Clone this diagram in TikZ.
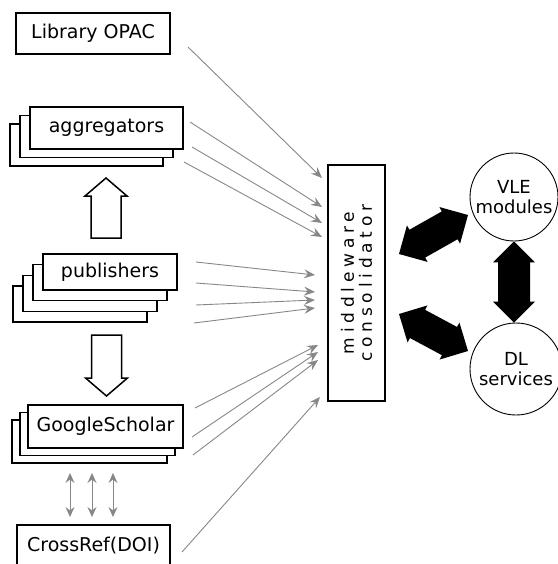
\documentclass[tikz,border=0pt]{standalone}
\usepackage{fontspec}
\setmainfont{DejaVu Sans}
\newfontfamily\spaced[LetterSpace=28]{DejaVu Sans}
\usetikzlibrary{positioning, arrows.meta, calc}
\definecolor{wire}{RGB}{135,135,135}

\tikzset{
  box/.style={draw, line width=1.5pt, fill=white, inner sep=0pt},
  hub/.style={draw, circle, line width=0.9pt, align=center, inner sep=0pt, font=\fontsize{18}{20}\selectfont},
  feed/.style={draw=wire, line width=0.9pt, -{Stealth[length=11pt, width=9pt, inset=4pt]}},
  link/.style={draw=wire, line width=0.9pt, {Stealth[length=10pt, width=9pt, inset=3.5pt]}-{Stealth[length=10pt, width=9pt, inset=3.5pt]}},
  fatarrow/.style={fill=black, to path={
    -- ($(\tikztostart)!21pt!(\tikztotarget)!21pt!90:(\tikztotarget)$)
    -- ($(\tikztostart)!21pt!(\tikztotarget)!16pt!90:(\tikztotarget)$)
    -- ($(\tikztotarget)!21pt!(\tikztostart)!16pt!-90:(\tikztostart)$)
    -- ($(\tikztotarget)!21pt!(\tikztostart)!21pt!-90:(\tikztostart)$)
    -- (\tikztotarget)
    -- ($(\tikztotarget)!21pt!(\tikztostart)!21pt!90:(\tikztostart)$)
    -- ($(\tikztotarget)!21pt!(\tikztostart)!16pt!90:(\tikztostart)$)
    -- ($(\tikztostart)!21pt!(\tikztotarget)!16pt!-90:(\tikztotarget)$)
    -- ($(\tikztostart)!21pt!(\tikztotarget)!21pt!-90:(\tikztotarget)$)
    -- cycle}},
  blockarrow/.style={draw, fill=white, line width=1.5pt, to path={
    -- ($(\tikztostart)!15pt!90:(\tikztotarget)$)
    -- ($(\tikztotarget)!18pt!(\tikztostart)!15pt!-90:(\tikztostart)$)
    -- ($(\tikztotarget)!18pt!(\tikztostart)!21pt!-90:(\tikztostart)$)
    -- (\tikztotarget)
    -- ($(\tikztotarget)!18pt!(\tikztostart)!21pt!90:(\tikztostart)$)
    -- ($(\tikztotarget)!18pt!(\tikztostart)!15pt!90:(\tikztostart)$)
    -- ($(\tikztostart)!15pt!-90:(\tikztotarget)$)
    -- cycle}}
}

\begin{document}
\begin{tikzpicture}[x=1pt, y=-1pt, font=\fontsize{19}{21}\selectfont]
  \useasboundingbox (0,0) rectangle (557,564);

  % Sources
  \node[box, minimum width=154pt, minimum height=41pt] (opac) at (93,33.5) {Library OPAC};

  \foreach \s in {2,1}
  \node[box, minimum width=153pt, minimum height=42pt] (agg\s) at (106.5-10*\s, 128+8.5*\s) {};
  \node[box, minimum width=153pt, minimum height=42pt] (agg0) at (106.5,128) {aggregators};

  \foreach \s in {3,2,1}
  \node[box, minimum width=134pt, minimum height=36pt] (pub\s) at (110-10*\s, 272+10.7*\s) {};
  \node[box, minimum width=134pt, minimum height=36pt] (pub0) at (110,272) {publishers};

  \foreach \s in {2,1}
  \node[box, minimum width=155pt, minimum height=43pt] (gs\s) at (105.5-8*\s, 426.5+7.5*\s) {};
  \node[box, minimum width=155pt, minimum height=43pt] (gs0) at (105.5,426.5) {GoogleScholar};

  \node[box, minimum width=153pt, minimum height=42pt] (crossref) at (93.5,546) {CrossRef(DOI)};

  % Publishers feed aggregators and GoogleScholar
  \coordinate (pubtop) at (106,238);
  \coordinate (aggbot) at (106,178);
  \coordinate (pubbot) at (106.5,335);
  \coordinate (gstop) at (106.5,396);
  \draw[blockarrow] (pubtop) to (aggbot);
  \draw[blockarrow] (pubbot) to (gstop);

  \foreach \x [count=\i] in {70,92,113} {
    \coordinate (gsout\i) at (\x,473);
    \coordinate (crin\i) at (\x,517);
    \draw[link] (gsout\i) -- (crin\i);
  }

  % Middleware
  \node[box, minimum width=57pt, minimum height=236pt] (mw) at (356.5,283) {};
  \node[rotate=90, align=center, font=\spaced\fontsize{17}{18}\selectfont] (mwtext) at (mw) {middleware\\consolidator};

  \foreach \sx/\sy/\ex/\ey [count=\i] in {188/47/322/178, 190/122/322/207, 192/147/322/223, 184/162/322/237,
    196/262/315/275, 196/283/315/292, 196/305/315/300, 194/323/315/308,
    195/408/318/345, 192/437/318/352, 193/455/318/360, 182/552/320/397} {
    \coordinate (src\i) at (\sx,\sy);
    \coordinate (dst\i) at (\ex,\ey);
    \draw[feed] (src\i) -- (dst\i);
  }

  % Services
  \node[hub, minimum size=88pt] (vle) at (514,197) {VLE\\modules};
  \node[hub, minimum size=92pt] (dl) at (516,369) {DL\\services};

  \coordinate (mwup) at (399,254);
  \coordinate (vlein) at (468,215);
  \coordinate (mwdown) at (399,314);
  \coordinate (dlin) at (468,351);
  \fill[fatarrow] (mwup) to (vlein);
  \fill[fatarrow] (mwdown) to (dlin);
  \fill[fatarrow] (vle.south) to (vle.south |- dl.north);
\end{tikzpicture}
\end{document}
